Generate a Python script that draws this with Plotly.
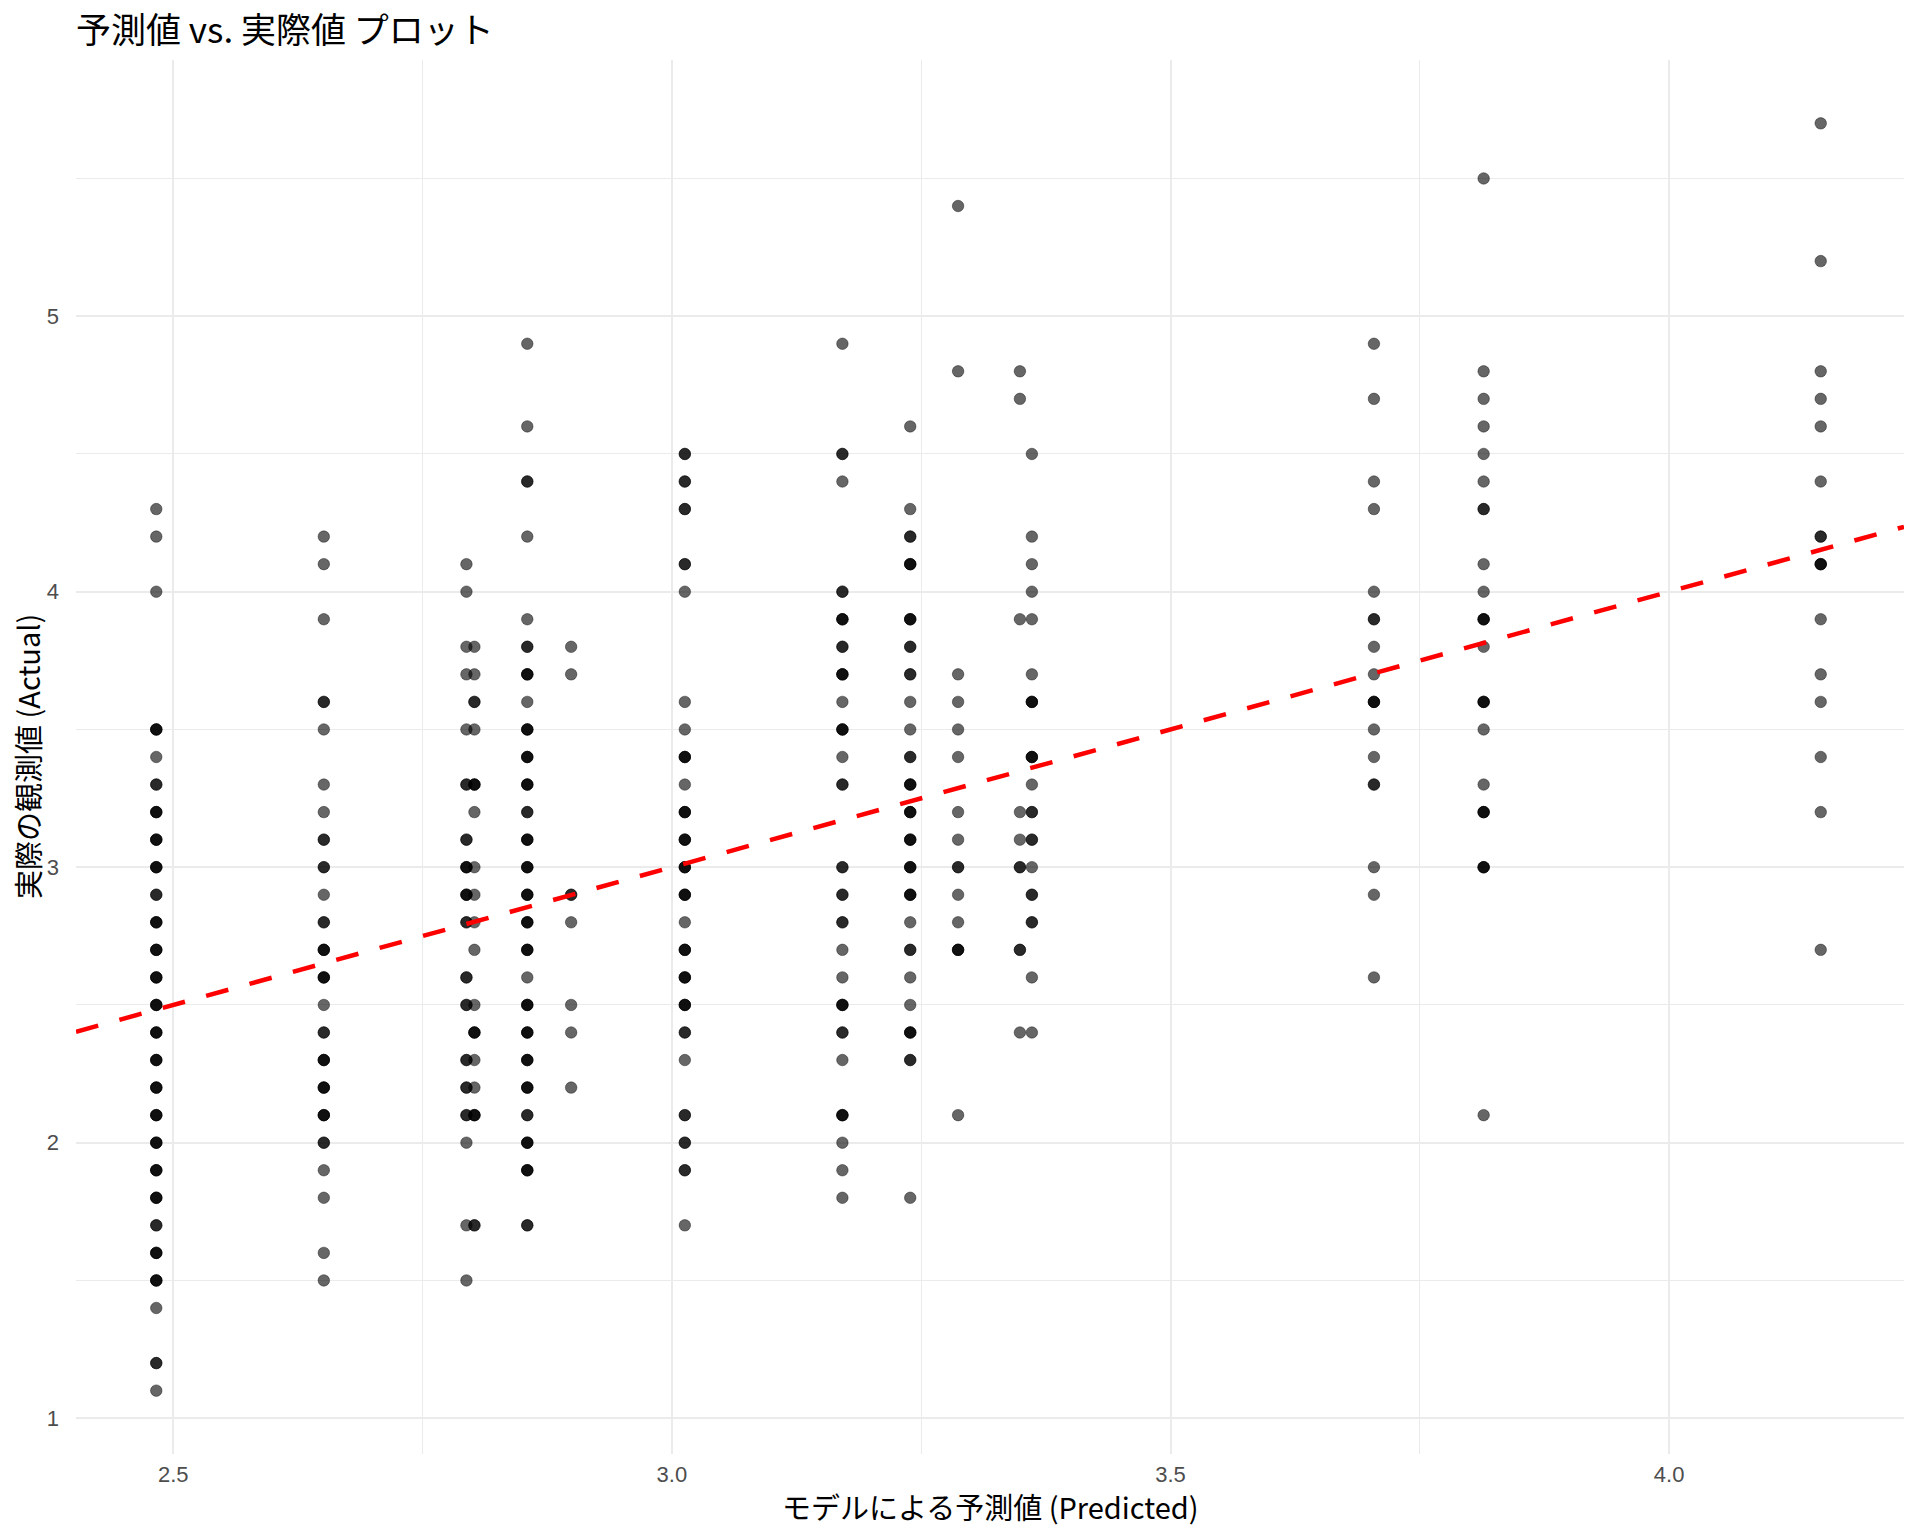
import plotly.graph_objects as go

# Predicted levels (x positions of each vertical column of points)
pred_levels = [2.483, 2.651, 2.794, 2.802, 2.855, 2.899, 3.013, 3.171,
               3.239, 3.287, 3.349, 3.361, 3.704, 3.814, 4.152]

# Actual values per predicted level (repeats = overlapping points)
act_c1 = [4.3, 4.2, 4.0, 3.5, 3.5, 3.5, 3.4, 3.3, 3.3, 3.2, 3.2, 3.2, 3.1, 3.1, 3.1,
          3.0, 3.0, 3.0, 2.9, 2.9, 2.8, 2.8, 2.8, 2.7, 2.7, 2.7, 2.6, 2.6, 2.6,
          2.5, 2.5, 2.5, 2.4, 2.4, 2.4, 2.3, 2.3, 2.3, 2.2, 2.2, 2.2, 2.1, 2.1, 2.1,
          2.0, 2.0, 2.0, 1.9, 1.9, 1.9, 1.8, 1.8, 1.8, 1.7, 1.7, 1.6, 1.6, 1.6,
          1.5, 1.5, 1.5, 1.4, 1.2, 1.2, 1.1]
act_c2 = [4.2, 4.1, 3.9, 3.6, 3.6, 3.5, 3.3, 3.2, 3.1, 3.1, 3.0, 3.0, 2.9, 2.8, 2.8,
          2.7, 2.7, 2.7, 2.6, 2.6, 2.6, 2.5, 2.4, 2.4, 2.3, 2.3, 2.3, 2.2, 2.2, 2.2,
          2.1, 2.1, 2.1, 2.0, 2.0, 1.9, 1.8, 1.6, 1.5]
act_c3 = [4.1, 4.0, 3.8, 3.7, 3.5, 3.3, 3.3, 3.1, 3.1, 3.0, 3.0, 3.0, 2.9, 2.9, 2.9,
          2.8, 2.8, 2.6, 2.6, 2.5, 2.5, 2.3, 2.3, 2.2, 2.2, 2.1, 2.1, 2.0, 1.7, 1.5]
act_c4 = [3.8, 3.7, 3.6, 3.6, 3.5, 3.3, 3.3, 3.3, 3.2, 3.0, 2.9, 2.8, 2.7, 2.5,
          2.4, 2.4, 2.4, 2.3, 2.2, 2.1, 2.1, 2.1, 1.7, 1.7]
act_c5 = [4.9, 4.6, 4.4, 4.4, 4.2, 3.9, 3.8, 3.8, 3.7, 3.7, 3.7, 3.6, 3.5, 3.5, 3.5,
          3.4, 3.4, 3.4, 3.3, 3.3, 3.3, 3.2, 3.2, 3.1, 3.1, 3.1, 3.0, 3.0, 3.0,
          2.9, 2.9, 2.9, 2.8, 2.8, 2.8, 2.7, 2.7, 2.7, 2.6, 2.5, 2.5, 2.5,
          2.4, 2.4, 2.4, 2.3, 2.3, 2.3, 2.2, 2.2, 2.2, 2.1, 2.1, 2.0, 2.0, 2.0,
          1.9, 1.9, 1.9, 1.7, 1.7]
act_c6 = [3.8, 3.7, 2.9, 2.9, 2.8, 2.5, 2.4, 2.2]
act_c7 = [4.5, 4.5, 4.4, 4.4, 4.3, 4.3, 4.1, 4.1, 4.0, 3.6, 3.5, 3.4, 3.4, 3.4, 3.3,
          3.2, 3.2, 3.2, 3.1, 3.1, 3.1, 3.0, 3.0, 3.0, 2.9, 2.9, 2.9, 2.8,
          2.7, 2.7, 2.7, 2.6, 2.6, 2.6, 2.5, 2.5, 2.5, 2.4, 2.4, 2.3,
          2.1, 2.1, 2.0, 2.0, 1.9, 1.9, 1.7]
act_c8 = [4.9, 4.5, 4.5, 4.4, 4.0, 4.0, 3.9, 3.9, 3.9, 3.8, 3.8, 3.7, 3.7, 3.7, 3.6,
          3.5, 3.5, 3.5, 3.4, 3.3, 3.3, 3.0, 3.0, 2.9, 2.9, 2.8, 2.8, 2.7, 2.6,
          2.5, 2.5, 2.5, 2.4, 2.4, 2.3, 2.1, 2.1, 2.1, 2.0, 1.9, 1.8]
act_c9 = [4.6, 4.3, 4.2, 4.2, 4.1, 4.1, 4.1, 3.9, 3.9, 3.9, 3.8, 3.8, 3.7, 3.7, 3.6,
          3.5, 3.4, 3.4, 3.3, 3.3, 3.3, 3.2, 3.2, 3.2, 3.1, 3.1, 3.1, 3.0, 3.0, 3.0,
          2.9, 2.9, 2.9, 2.8, 2.7, 2.7, 2.6, 2.5, 2.4, 2.4, 2.4, 2.3, 2.3, 1.8]
act_c10 = [5.4, 4.8, 3.7, 3.6, 3.5, 3.4, 3.2, 3.1, 3.0, 3.0, 2.9, 2.8, 2.7, 2.7, 2.7, 2.1]
act_c11 = [4.8, 4.7, 3.9, 3.2, 3.1, 3.0, 3.0, 2.7, 2.7, 2.4]
act_c12 = [4.5, 4.2, 4.1, 4.0, 3.9, 3.7, 3.6, 3.6, 3.6, 3.4, 3.4, 3.4, 3.3, 3.2, 3.2,
           3.1, 3.1, 3.0, 2.9, 2.9, 2.8, 2.8, 2.6, 2.4]
act_c13 = [4.9, 4.7, 4.4, 4.3, 4.0, 3.9, 3.9, 3.8, 3.7, 3.6, 3.6, 3.6, 3.5, 3.4,
           3.3, 3.3, 3.0, 2.9, 2.6]
act_c14 = [5.5, 4.8, 4.7, 4.6, 4.5, 4.4, 4.3, 4.3, 4.1, 4.0, 3.9, 3.9, 3.9, 3.8,
           3.6, 3.6, 3.6, 3.5, 3.3, 3.2, 3.2, 3.2, 3.0, 3.0, 3.0, 2.1]
act_c15 = [5.7, 5.2, 4.8, 4.7, 4.6, 4.4, 4.2, 4.2, 4.1, 4.1, 4.1, 3.9, 3.7, 3.6,
           3.4, 3.2, 2.7]

actual_columns = [act_c1, act_c2, act_c3, act_c4, act_c5, act_c6, act_c7, act_c8,
                  act_c9, act_c10, act_c11, act_c12, act_c13, act_c14, act_c15]

x_tick_vals = [2.5, 3.0, 3.5, 4.0]
x_tick_text = ["2.5", "3.0", "3.5", "4.0"]
y_tick_vals = [1, 2, 3, 4, 5]
y_tick_text = ["1", "2", "3", "4", "5"]

title_text = "予測値 vs. 実際値 プロット"
x_title = "モデルによる予測値 (Predicted)"
y_title = "実際の観測値 (Actual)"

x_range = [2.4025, 4.2355]
y_range = [0.87, 5.93]

# Build flat arrays
xs, ys = [], []
for p, col in zip(pred_levels, actual_columns):
    for a in col:
        xs.append(p)
        ys.append(a)

CJK = "Noto Sans CJK JP"
SANS = "Liberation Sans, Arial, sans-serif"

fig = go.Figure()
fig.add_trace(go.Scatter(
    x=xs, y=ys, mode="markers",
    marker=dict(size=11.5, color="rgba(0,0,0,0.6)",
                line=dict(width=1, color="rgba(0,0,0,0.4)")),
    showlegend=False, hoverinfo="x+y"))

# Reference line y = x spanning the panel
fig.add_trace(go.Scatter(
    x=x_range, y=x_range, mode="lines",
    line=dict(color="red", width=4.5, dash="23px,22px"),
    showlegend=False, hoverinfo="skip"))

grid_major = "#EBEBEB"
grid_minor = "#EBEBEB"

fig.update_layout(
    width=1920, height=1536,
    paper_bgcolor="white", plot_bgcolor="white",
    margin=dict(l=68, r=24, t=52, b=90),
    title=dict(text=title_text, x=68/1920, xref="container", xanchor="left",
               y=1 - 23/1536, yref="container", yanchor="middle",
               font=dict(family=CJK, size=35, color="black")),
    xaxis=dict(range=x_range, tickvals=x_tick_vals, ticktext=x_tick_text,
               automargin=False,
               showgrid=True, gridcolor=grid_major, gridwidth=2,
               zeroline=False, showline=False, ticks="",
               ticklabelstandoff=5,
               tickfont=dict(family=SANS, size=22, color="#4D4D4D"),
               minor=dict(dtick=0.25, tick0=2.25, showgrid=True,
                          gridcolor=grid_minor, gridwidth=1.2)),
    yaxis=dict(range=y_range, tickvals=y_tick_vals, ticktext=y_tick_text,
               automargin=False,
               showgrid=True, gridcolor=grid_major, gridwidth=2,
               zeroline=False, showline=False, ticks="",
               ticklabelstandoff=16,
               tickfont=dict(family=SANS, size=22, color="#4D4D4D"),
               minor=dict(dtick=0.5, tick0=0.5, showgrid=True,
                          gridcolor=grid_minor, gridwidth=1.2)),
    annotations=[
        dict(text=x_title, xref="paper", yref="paper", x=0.5, y=0,
             xanchor="center", yanchor="middle", yshift=-52, showarrow=False,
             font=dict(family=CJK, size=29, color="black")),
        dict(text=y_title, xref="paper", yref="paper", x=0, y=0.5,
             xanchor="center", yanchor="middle", xshift=-49, textangle=-90,
             showarrow=False, font=dict(family=CJK, size=29, color="black")),
    ],
)

fig.write_html("out.html")
